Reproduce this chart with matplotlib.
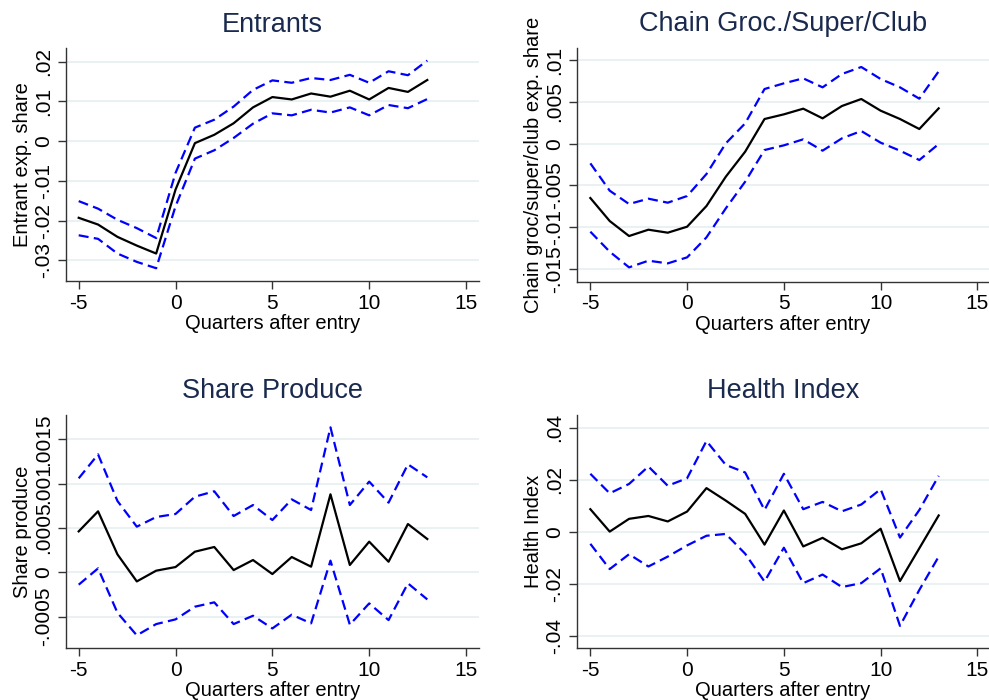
import matplotlib
matplotlib.use("Agg")
import matplotlib.pyplot as plt
import numpy as np

plt.rcParams['font.family'] = ['Liberation Sans', 'DejaVu Sans']

quarters = list(range(-5, 14))

# Entrants
entr_est = [-0.0193, -0.0210, -0.0241, -0.0263, -0.0283, -0.0122, -0.0005, 0.0016, 0.0045, 0.0085,
            0.0111, 0.0105, 0.0120, 0.0112, 0.0127, 0.0105, 0.0134, 0.0124, 0.0154]
entr_hi = [-0.0151, -0.0170, -0.0198, -0.0219, -0.0244, -0.0080, 0.0034, 0.0054, 0.0087, 0.0129,
           0.0153, 0.0147, 0.0159, 0.0154, 0.0167, 0.0147, 0.0176, 0.0166, 0.0203]
entr_lo = [-0.0237, -0.0246, -0.0283, -0.0304, -0.0320, -0.0164, -0.0044, -0.0023, 0.0008, 0.0044,
           0.0070, 0.0065, 0.0079, 0.0072, 0.0085, 0.0065, 0.0091, 0.0083, 0.0106]

# Chain grocery / supercenter / club
chain_est = [-0.00652, -0.00928, -0.01108, -0.01032, -0.01068, -0.00996, -0.00748, -0.00396, -0.00096, 0.00296,
             0.00352, 0.00420, 0.00304, 0.00452, 0.00536, 0.00396, 0.00296, 0.00176, 0.00424]
chain_hi = [-0.00236, -0.00564, -0.00724, -0.00660, -0.00708, -0.00628, -0.00364, 0.00004, 0.00244, 0.00656,
            0.00724, 0.00784, 0.00676, 0.00836, 0.00920, 0.00776, 0.00676, 0.00540, 0.00868]
chain_lo = [-0.01056, -0.01296, -0.01484, -0.01404, -0.01436, -0.01364, -0.01124, -0.00776, -0.00456, -0.00076,
            -0.00020, 0.00052, -0.00084, 0.00064, 0.00152, 0.00012, -0.00084, -0.00196, -0.00004]

# Share produce
prod_est = [0.000462, 0.000688, 0.000203, -0.000102, 0.000019, 0.000060, 0.000233, 0.000286, 0.000026, 0.000139,
            -0.000019, 0.000173, 0.000064, 0.000880, 0.000083, 0.000346, 0.000120, 0.000545, 0.000376]
prod_hi = [0.001060, 0.001330, 0.000805, 0.000515, 0.000624, 0.000658, 0.000853, 0.000914, 0.000635, 0.000759,
           0.000590, 0.000823, 0.000703, 0.001635, 0.000759, 0.001023, 0.000786, 0.001218, 0.001071]
prod_lo = [-0.000139, 0.000045, -0.000455, -0.000710, -0.000583, -0.000530, -0.000387, -0.000338, -0.000583, -0.000489,
           -0.000632, -0.000477, -0.000575, 0.000132, -0.000590, -0.000350, -0.000538, -0.000124, -0.000305]

# Health index
health_est = [0.0087, 0.0001, 0.0050, 0.0061, 0.0040, 0.0078, 0.0168, 0.0120, 0.0069, -0.0049,
              0.0082, -0.0056, -0.0023, -0.0067, -0.0044, 0.0012, -0.0189, -0.0063, 0.0063]
health_hi = [0.0223, 0.0148, 0.0184, 0.0251, 0.0177, 0.0206, 0.0349, 0.0257, 0.0228, 0.0084,
             0.0223, 0.0087, 0.0115, 0.0079, 0.0105, 0.0164, -0.0022, 0.0084, 0.0215]
health_lo = [-0.0046, -0.0143, -0.0086, -0.0133, -0.0095, -0.0052, -0.0015, -0.0008, -0.0084, -0.0191,
             -0.0061, -0.0197, -0.0164, -0.0212, -0.0197, -0.0140, -0.0361, -0.0223, -0.0095]

x_ticks = [-5, 0, 5, 10, 15]

panels = [
    dict(title="Entrants", ylabel="Entrant exp. share",
         est=entr_est, hi=entr_hi, lo=entr_lo,
         yticks=[-0.03, -0.02, -0.01, 0, 0.01, 0.02],
         ylabels=["-.03", "-.02", "-.01", "0", ".01", ".02"],
         ylim=(-0.03529, 0.02338), xlim=(-5.656, 15.67),
         box=(66, 48.3, 479, 281.3)),
    dict(title="Chain Groc./Super/Club", ylabel="Chain groc/super/club exp. share",
         est=chain_est, hi=chain_hi, lo=chain_lo,
         yticks=[-0.015, -0.01, -0.005, 0, 0.005, 0.01],
         ylabels=["-.015", "-.01", "-.005", "0", ".005", ".01"],
         ylim=(-0.01656, 0.01148), xlim=(-5.69, 15.6),
         box=(577, 48.0, 989, 281.7)),
    dict(title="Share Produce", ylabel="Share produce",
         est=prod_est, hi=prod_hi, lo=prod_lo,
         yticks=[-0.0005, 0, 0.0005, 0.001, 0.0015],
         ylabels=["-.0005", "0", ".0005", ".001", ".0015"],
         ylim=(-0.000856, 0.001774), xlim=(-5.656, 15.67),
         box=(66, 415, 479, 648.3)),
    dict(title="Health Index", ylabel="Health Index",
         est=health_est, hi=health_hi, lo=health_lo,
         yticks=[-0.04, -0.02, 0, 0.02, 0.04],
         ylabels=["-.04", "-.02", "0", ".02", ".04"],
         ylim=(-0.04472, 0.04488), xlim=(-5.69, 15.6),
         box=(577, 415, 989, 648.3)),
]

W, H = 989, 700
fig = plt.figure(figsize=(W / 100, H / 100), dpi=100)
fig.patch.set_facecolor("white")

title_color = "#1a2a4e"
grid_color = "#e6eff1"
spine_color = "#333333"

for p in panels:
    l, t, r, b = p["box"]
    ax = fig.add_axes([l / W, 1 - b / H, (r - l) / W, (b - t) / H])
    ax.set_xlim(*p["xlim"])
    ax.set_ylim(*p["ylim"])
    ax.set_xticks(x_ticks)
    ax.set_xticklabels([str(v) for v in x_ticks])
    ax.set_yticks(p["yticks"])
    ax.set_yticklabels(p["ylabels"], rotation=90, va="center")
    for yv in p["yticks"]:
        ax.axhline(yv, color=grid_color, lw=1.2, zorder=0)
    ax.plot(quarters, p["hi"], color="#0000ff", lw=1.6, dashes=(4.5, 2.4), zorder=2)
    ax.plot(quarters, p["lo"], color="#0000ff", lw=1.6, dashes=(4.5, 2.4), zorder=2)
    ax.plot(quarters, p["est"], color="black", lw=1.6, zorder=3)
    for s in ("top", "right"):
        ax.spines[s].set_visible(False)
    for s in ("left", "bottom"):
        ax.spines[s].set_color(spine_color)
        ax.spines[s].set_linewidth(1.0)
    ax.tick_params(axis="both", direction="out", length=6, width=1.0, color=spine_color,
                   labelsize=15, pad=3)
    ax.set_xlabel("Quarters after entry", fontsize=14.5, labelpad=1)
    ax.set_ylabel(p["ylabel"], fontsize=14.5, labelpad=2)
    ax.set_title(p["title"], fontsize=19.5, color=title_color, pad=12)

fig.savefig("out.png", dpi=100, facecolor="white")
